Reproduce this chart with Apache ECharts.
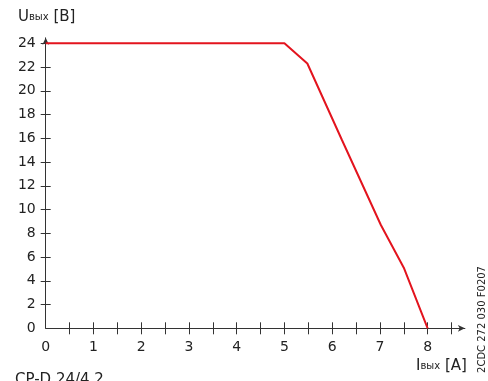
<!DOCTYPE html>
<html>
<head>
<meta charset="utf-8">
<script src="https://cdn.jsdelivr.net/npm/echarts@6/dist/echarts.min.js"></script>
<style>html,body{margin:0;padding:0;background:#fff}#c{width:488px;height:381px}</style>
</head>
<body>
<div id="c"></div>
<script>
// Data
const currentA = [0, 5, 5.48, 6.2, 7.02, 7.5, 8];
const voltageV = [24, 24, 22.3, 15.9, 8.7, 5.1, 0];
const xLabelValues = [0, 1, 2, 3, 4, 5, 6, 7, 8];
const xTickValues = [0.5, 1, 1.5, 2, 2.5, 3, 3.5, 4, 4.5, 5, 5.5, 6, 6.5, 7, 7.5, 8, 8.5];
const yLabelValues = [0, 2, 4, 6, 8, 10, 12, 14, 16, 18, 20, 22, 24];
const yTickValues = [2, 4, 6, 8, 10, 12, 14, 16, 18, 20, 22, 24];

const FONT = 'DejaVu Sans';
const AX = '#333';
const pts = currentA.map((x, i) => [x, voltageV[i]]);

const XMAX = 8.78, YMAX = 24.46;
const GL = 45.7, GR = 23.1, GT = 37.85, GB = 52.7;
const GW = 488 - GL - GR, GH = 381 - GT - GB;
// inner half of the crossing ticks, expressed in axis units (6px / 5px)
const xTickIn = 6 * YMAX / GH;
const yTickIn = 5 * XMAX / GW;
const innerTicks = xTickValues.map(v => [{coord: [v, 0]}, {coord: [v, xTickIn]}])
  .concat(yTickValues.map(v => [{coord: [0, v]}, {coord: [yTickIn, v]}]));

const chart = echarts.init(document.getElementById('c'), null, {renderer: 'canvas'});
chart.setOption({
  animation: false,
  grid: {left: GL, right: GR, top: GT, bottom: GB},
  xAxis: {
    type: 'value', min: 0, max: XMAX, position: 'bottom', splitLine: {show: false},
    axisLine: {show: true, onZero: false, symbol: ['none', 'arrow'], symbolSize: [5, 7], lineStyle: {color: AX, width: 1}},
    axisTick: {show: true, inside: false, length: 6, customValues: xTickValues, lineStyle: {color: AX}},
    axisLabel: {show: true, customValues: xLabelValues, margin: 12, color: '#222', fontSize: 14, fontFamily: FONT}
  },
  yAxis: {
    type: 'value', min: 0, max: YMAX, position: 'left', splitLine: {show: false},
    axisLine: {show: true, onZero: false, symbol: ['none', 'arrow'], symbolSize: [5, 7], lineStyle: {color: AX, width: 1}},
    axisTick: {show: true, inside: false, length: 5, customValues: yTickValues, lineStyle: {color: AX}},
    axisLabel: {show: true, customValues: yLabelValues, margin: 10, color: '#222', fontSize: 14, fontFamily: FONT}
  },
  series: [{
    type: 'line',
    data: pts,
    showSymbol: false,
    symbol: 'none',
    lineStyle: {color: '#e3141e', width: 2},
    z: 3,
    markLine: {
      silent: true,
      symbol: ['none', 'none'],
      label: {show: false},
      lineStyle: {color: AX, width: 1, type: 'solid'},
      emphasis: {disabled: true},
      z: 1,
      data: innerTicks
    }
  }],
  graphic: [
    {type: 'text', left: 18, top: 10, style: {
      text: '{a|U}{b|вых}{a| [B]}',
      rich: {a: {fontSize: 15, fontFamily: FONT, fill: '#222'}, b: {fontSize: 10, fontFamily: FONT, fill: '#222'}}
    }},
    {type: 'text', left: 416, top: 359, style: {
      text: '{a|I}{b|вых}{a| [A]}',
      rich: {a: {fontSize: 15, fontFamily: FONT, fill: '#222'}, b: {fontSize: 10, fontFamily: FONT, fill: '#222'}}
    }},
    {type: 'text', left: 15, top: 373, style: {text: 'CP-D 24/4.2', fontSize: 15, fontFamily: FONT, fill: '#222'}},
    {type: 'text', x: 482, y: 319.5, rotation: Math.PI / 2, style: {text: '2CDC 272 030 F0207', fontSize: 10, fontFamily: FONT, fill: '#222', align: 'center', verticalAlign: 'middle'}}
  ]
});
</script>
</body>
</html>
